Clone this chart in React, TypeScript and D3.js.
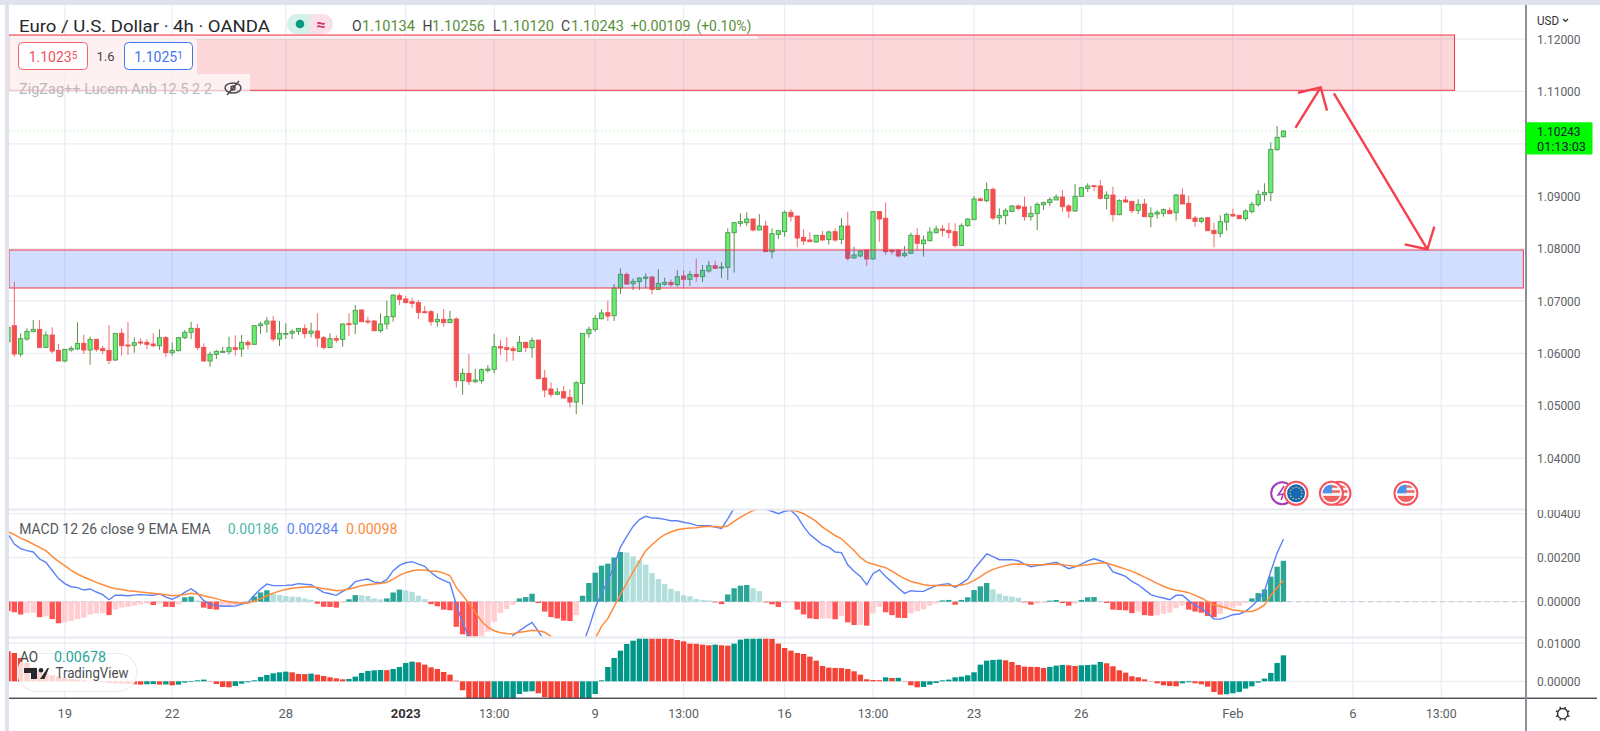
import React from "react";
import * as d3 from "d3";

// Candles, prices in 1e-5 units (index 0 is the half-hidden candle on the left edge)
const opens = [106224,
106529,105988,106274,106414,106459,106115,106351,106058,105855,106064,
106084,106192,106064,106268,106090,106058,105874,106383,106160,106154,
106217,106211,106179,106147,106300,106014,106052,106300,106402,106478,
106115,105855,105982,106033,106033,106109,106084,106211,106173,106529,
106561,106618,106274,106376,106383,106421,106478,106383,106427,106300,
106115,106281,106268,106567,106561,106828,106618,106618,106433,106561,
106701,107101,107038,106987,106968,106796,106796,106605,106650,106586,
106656,105479,105619,105460,105479,105676,105696,106128,106109,106090,
106039,106211,106109,106255,105530,105320,105219,105269,105161,105072,
105428,106376,106459,106662,106777,106720,107248,107508,107330,107369,
107432,107458,107222,107318,107356,107311,107477,107413,107508,107464,
107572,107674,107629,107643,108304,108482,108495,108565,108355,108431,
107942,108272,108323,108692,108622,108215,108164,108126,108253,108171,
108323,108177,108431,107821,107859,107973,107802,108705,108578,107973,
107973,107865,107910,108253,108094,108151,108304,108374,108349,108323,
108062,108438,108552,108947,108915,109131,108590,108629,108711,108813,
108794,108609,108667,108838,108877,108928,108985,108813,108718,108997,
109150,109201,109195,108959,109023,108648,108928,108902,108730,108851,
108609,108660,108673,108730,108686,109023,108864,108584,108520,108590,
108349,108291,108508,108654,108635,108571,108705,108838,109029,109067,
109888,110134];
const highs = [106529,
107369,106383,106478,106637,106637,106414,106497,106179,106077,106141,
106592,106357,106319,106268,106141,106535,106383,106478,106599,106306,
106287,106268,106383,106459,106332,106211,106306,106446,106599,106561,
106192,106033,106064,106128,106319,106344,106351,106255,106535,106605,
106688,106713,106618,106573,106459,106478,106554,106586,106764,106332,
106383,106344,106573,106764,106923,106841,106701,106637,106764,107006,
107120,107146,107095,107063,107019,106904,106828,106764,106847,106815,
106688,105708,105988,105708,105715,105778,106370,106255,106306,106141,
106332,106217,106306,106255,105689,105448,105339,105378,105314,105467,
106383,106510,106732,106841,107006,107324,107623,107547,107432,107451,
107528,107477,107604,107445,107413,107591,107591,107572,107814,107687,
107763,107769,107737,108387,108501,108673,108692,108565,108660,108533,
108387,108355,108724,108749,108622,108368,108310,108260,108336,108342,
108387,108584,108705,108037,107973,107986,108711,108711,108883,107986,
107986,108050,108304,108387,108247,108406,108438,108450,108495,108482,
108482,108578,109004,108978,109265,109169,108768,108768,108832,108845,
108991,108813,108883,108896,108978,109036,109118,108851,109233,109169,
109246,109214,109309,109093,109182,108940,109004,108902,108940,108953,
108788,108737,108762,108788,109042,109150,109004,108622,108603,108597,
108495,108635,108686,108762,108641,108749,108896,109118,109246,110028,
110340,110256];
const lows = [106224,
105937,105937,106243,106414,106103,106103,106001,105855,105836,106033,
106064,105988,105785,106033,105988,105797,105855,105956,105969,106014,
106154,106077,106115,106064,105925,105956,106039,106274,106274,106064,
105836,105746,105893,106033,105982,105956,105937,106077,106166,106370,
106395,106224,106141,106274,106274,106351,106287,106306,106128,106077,
106103,106204,106128,106332,106370,106599,106561,106421,106395,106459,
106605,106923,106955,106872,106656,106764,106529,106510,106510,106586,
105352,105212,105397,105441,105428,105632,105619,105969,105836,105861,
106026,106026,105918,105517,105161,105161,105206,105136,104970,104843,
105021,106300,106414,106650,106618,106618,107133,107305,107210,107210,
107241,107127,107210,107292,107273,107273,107260,107286,107369,107362,
107540,107610,107439,107401,107541,108419,108431,108323,108355,107942,
107814,108183,108228,108514,108024,108069,108132,108113,108151,108075,
108132,108088,107770,107808,107833,107668,107795,108132,107878,107884,
107833,107833,107897,107961,107846,108139,108291,108228,108196,108024,
108050,108419,108546,108908,108883,108546,108463,108463,108705,108724,
108533,108533,108355,108737,108813,108928,108705,108590,108699,108991,
109080,109099,108940,108749,108514,108635,108877,108673,108660,108603,
108406,108571,108609,108654,108533,108851,108571,108419,108482,108336,
108024,108215,108342,108609,108565,108533,108673,108800,108902,108902,
109869,110120];
const closes = [106500,
105988,106281,106421,106459,106115,106351,106045,105855,106077,106096,
106192,106064,106268,106077,106052,105867,106383,106147,106147,106204,
106204,106173,106147,106300,106014,106058,106300,106402,106478,106115,
105855,105982,106039,106039,106109,106077,106211,106166,106529,106561,
106618,106274,106383,106383,106421,106478,106376,106427,106294,106115,
106281,106255,106561,106561,106821,106605,106599,106433,106561,106701,
107114,107031,106968,106955,106783,106777,106605,106650,106586,106650,
105479,105619,105460,105492,105689,105702,106128,106103,106077,106052,
106211,106109,106249,105517,105301,105219,105263,105149,105072,105441,
106383,106459,106669,106771,106713,107248,107508,107324,107375,107438,
107458,107222,107337,107356,107311,107464,107413,107508,107464,107585,
107674,107623,107648,108304,108495,108514,108565,108355,108431,107942,
108285,108342,108692,108609,108202,108145,108132,108253,108164,108317,
108164,108431,107814,107878,107954,107802,108705,108565,107942,107942,
107859,107910,108253,108101,108164,108317,108374,108349,108304,108056,
108438,108565,108947,108915,109125,108584,108635,108724,108813,108768,
108609,108673,108845,108877,108934,108985,108800,108718,108997,109163,
109195,109182,108959,109023,108648,108915,108889,108724,108845,108609,
108673,108692,108743,108667,109023,108851,108571,108520,108578,108342,
108285,108514,108654,108622,108571,108718,108845,109036,109074,109894,
110123,110243];

// MACD indicator, 1e-5 units
const macdHist = [-42,-48,-58,-52,-50,-70,-67,-79,-98,-94,-88,-79,-73,-58,-53,-52,-61,-36,-27,-24,-18,-12,-8,-15,-8,-23,-24,-11,20,23,6,-27,-33,-36,-21,-20,-15,-12,-5,24,42,52,36,30,26,23,21,14,9,-9,-23,-24,-27,-5,11,30,29,26,15,11,15,42,55,52,45,27,12,-11,-21,-36,-39,-114,-148,-189,-197,-182,-136,-91,-52,-33,-14,15,21,36,-6,-45,-70,-76,-86,-88,-61,27,85,132,164,173,201,226,224,206,188,168,130,103,80,58,48,30,24,12,8,6,-3,-11,33,61,73,76,61,48,-3,-12,-24,-5,-3,-36,-58,-76,-79,-77,-76,-80,-64,-94,-106,-105,-109,-53,-23,-48,-61,-73,-74,-53,-44,-35,-18,-8,6,8,-14,8,20,53,70,85,56,36,27,23,18,-3,-14,-8,-5,5,8,-6,-18,-9,8,20,21,3,-6,-36,-38,-39,-52,-45,-61,-64,-62,-55,-50,-30,-18,-36,-45,-50,-65,-70,-55,-30,-27,-18,-5,15,39,56,114,159,186];
const macdLine = [308,262,241,232,226,194,179,142,105,82,68,64,53,58,44,32,9,30,29,27,30,32,30,29,36,21,11,24,42,59,39,5,-11,-18,-21,-21,-20,-11,-3,29,58,80,73,73,74,76,82,79,77,59,42,36,29,47,62,91,98,103,89,86,100,141,165,177,182,171,161,133,111,97,85,-14,-97,-158,-211,-241,-241,-241,-226,-203,-153,-132,-112,-94,-135,-180,-226,-248,-256,-256,-226,-195,-120,-29,39,92,165,248,297,342,373,388,380,379,374,368,368,361,356,347,345,345,339,333,377,426,471,486,494,479,421,411,400,411,415,388,342,305,282,259,248,226,223,168,138,115,77,127,145,115,89,62,38,50,47,47,61,73,79,82,65,83,103,148,183,217,205,191,191,191,186,171,159,164,168,174,179,165,150,158,171,186,195,186,176,135,126,115,92,77,55,32,23,17,9,29,29,5,-17,-29,-52,-79,-79,-70,-59,-56,-44,-21,9,47,138,221,284];
const signalLine = [318,305,289,277,262,247,232,206,183,164,142,126,112,100,88,77,67,59,55,50,47,44,41,38,35,32,27,29,33,38,35,27,20,14,5,0,-5,-6,-6,2,14,27,39,48,55,61,64,67,68,65,59,55,50,52,58,65,73,77,80,83,88,103,120,132,141,144,144,138,138,130,118,65,29,-8,-47,-89,-117,-132,-141,-145,-147,-139,-135,-130,-132,-139,-158,-173,-195,-218,-236,-245,-211,-168,-112,-77,-21,32,85,135,183,232,259,285,305,317,327,332,335,336,341,342,342,339,345,365,383,400,414,424,429,429,423,418,418,411,400,383,365,339,320,301,286,259,233,201,180,171,162,155,139,121,105,92,85,77,74,74,74,74,73,76,82,97,114,133,147,156,164,170,171,170,168,168,168,170,171,168,164,161,164,168,173,176,176,167,158,148,138,126,112,98,83,70,59,52,47,41,29,17,0,-14,-21,-29,-38,-41,-44,-44,-33,-15,29,62,98];

// Awesome Oscillator, 1e-5 units
const aoValues = [783,740,609,479,365,278,209,157,122,87,61,44,26,9,-9,-26,-44,-52,-61,-70,-78,-87,-78,-74,-87,-83,-104,-87,-35,-17,26,44,9,-70,-148,-157,-122,-61,-26,26,113,165,209,235,252,235,191,187,200,174,139,104,78,52,61,122,218,270,287,296,291,322,374,479,513,496,435,365,322,244,174,17,-235,-480,-520,-540,-545,-530,-500,-470,-440,-331,-270,-261,-313,-418,-478,-522,-540,-548,-565,-522,-478,-331,26,374,609,800,974,1061,1157,1192,1183,1175,1166,1114,1079,1044,983,979,957,940,957,940,931,983,1088,1175,1192,1201,1175,1114,983,870,800,740,713,644,539,400,357,348,344,322,261,174,52,35,30,104,87,91,9,-104,-157,-148,-87,-44,26,44,104,122,157,235,435,539,557,566,548,505,426,383,378,374,348,374,409,426,418,400,418,426,435,505,470,392,287,226,131,104,52,9,-52,-104,-122,-131,-52,-26,-52,-78,-139,-278,-348,-339,-313,-278,-191,-131,-35,70,218,479,678];

// Axes
const priceTicks = [112000,111000,110000,109000,108000,107000,106000,105000,104000];
const macdTicks = [400,200,0];
const aoTicks = [1000,0];
const timeTickIndex = [9,26,44,63,77,93,107,123,137,153,170,194,213,227];
const timeTickLabel = ["19","22","28","2023","13:00","9","13:00","16","13:00","23","26","Feb","6","13:00"];

// Drawn annotations: [candle index, price]
const supplyZone = { from: 0.16, to: 229.1, top: 112076, bottom: 111021 };
const demandZone = { from: 0.16, to: 240, top: 107973, bottom: 107248 };
const arrowUp = [[203.9,110302],[207.9,111078]];
const arrowUpHead = [[204.3,110975],[207.9,111078],[208.9,110632]];
const arrowDown = [[210,110964],[224.8,107987]];
const arrowDownHead = [[221.2,108082],[224.8,107987],[225.9,108418]];
const lastPrice = 110243;

const eventSplash = 201.8;
const eventEu = 204;
const eventUs = [210.8, 209.6, 221.4];

const FONT = "Roboto, sans-serif";

function label(x: number, y: number, s: string, size: number, fill: string, w?: number, anchor = "start", weight = 400) {
  return (
    <text x={x} y={y} fontFamily={FONT} fontSize={size} fill={fill} textAnchor={anchor} dominantBaseline="central" fontWeight={weight}
      {...(w ? { textLength: w, lengthAdjust: "spacingAndGlyphs" } : {})}>{s}</text>
  );
}

function UsIcon({ cx, cy, id }: { cx: number; cy: number; id: string }) {
  return (
    <g>
      <circle cx={cx} cy={cy} r={11.5} fill="#fff" stroke="#f7525f" strokeWidth={2} />
      <clipPath id={id}><circle cx={cx} cy={cy} r={8.8} /></clipPath>
      <g clipPath={`url(#${id})`}>
        <rect x={cx - 10} y={cy - 10} width={20} height={20} fill="#f4f4f6" />
        <rect x={cx - 10} y={cy - 8} width={20} height={2.4} fill="#f2605f" />
        <rect x={cx - 10} y={cy - 3} width={20} height={2.4} fill="#f2605f" />
        <rect x={cx - 10} y={cy + 2.6} width={20} height={6.4} fill="#f2605f" />
        <rect x={cx - 10} y={cy - 10} width={10.5} height={10} fill="#4a94e8" />
      </g>
    </g>
  );
}

export default function App() {
  const x = d3.scaleLinear().domain([0, 202]).range([8, 8 + 6.314 * 202]);
  const y = d3.scaleLinear().domain([104000, 112000]).range([458.2, 39]);
  const yMacd = d3.scaleLinear().domain([0, 200]).range([601.7, 557.7]);
  const yAo = d3.scaleLinear().domain([0, 1000]).range([681.3, 643]);

  const macdPath = d3.line<number>().x((_, i) => x(i)).y((d) => yMacd(d))(macdLine) || "";
  const signalPath = d3.line<number>().x((_, i) => x(i)).y((d) => yMacd(d))(signalLine) || "";
  const arrowPath = d3.line<number[]>().x((d) => x(d[0])).y((d) => y(d[1]));

  const grid = "#e9eef5";
  const pos = "#5a8f3a";
  const barW = 5.4;

  const histColor = (v: number, i: number) => {
    const prev = i > 0 ? macdHist[i - 1] : v + 1;
    if (v >= 0) return v >= prev ? "#2aa596" : "#b2dfdb";
    return v < prev ? "#ff5252" : "#ffcdd2";
  };
  const aoColor = (v: number, i: number) => {
    const prev = i > 0 ? aoValues[i - 1] : v + 1;
    return v >= prev ? "#009688" : "#f44336";
  };

  return (
    <svg width={1600} height={731} style={{ position: "absolute", left: 0, top: 0, display: "block", background: "#fff" }}>
      <defs>
        <clipPath id="cPrice"><rect x={9} y={5} width={1516} height={504} /></clipPath>
        <clipPath id="cMacd"><rect x={9} y={510} width={1516} height={126.5} /></clipPath>
        <clipPath id="cAo"><rect x={9} y={638.5} width={1516} height={59.5} /></clipPath>
        <clipPath id="cMacdAxis"><rect x={1527} y={510} width={70} height={126} /></clipPath>
      </defs>

      {/* page frame */}
      <rect x={0} y={0} width={1600} height={5} fill="#e0e3eb" />
      <rect x={5} y={0} width={4} height={731} fill="#e0e3eb" />

      {/* grid */}
      <g stroke={grid} strokeWidth={1.3}>
        {priceTicks.map((t) => <line key={t} x1={9} x2={1525} y1={y(t)} y2={y(t)} />)}
        {macdTicks.map((t) => <line key={t} x1={9} x2={1525} y1={yMacd(t)} y2={yMacd(t)} />)}
        {aoTicks.map((t) => <line key={t} x1={9} x2={1525} y1={yAo(t)} y2={yAo(t)} />)}
        {timeTickIndex.map((t) => <line key={t} x1={x(t)} x2={x(t)} y1={5} y2={698} />)}
      </g>

      {/* last price line */}
      <line x1={9} x2={1525} y1={y(lastPrice)} y2={y(lastPrice)} stroke="#b6f2b6" strokeWidth={1} strokeDasharray="1.5 2.5" />

      {/* candles */}
      <g clipPath="url(#cPrice)">
        {closes.map((c, i) => {
          const up = c >= opens[i];
          const top = y(Math.max(c, opens[i]));
          const h = Math.max(1, y(Math.min(c, opens[i])) - top);
          return (
            <g key={i}>
              <line x1={x(i)} x2={x(i)} y1={y(highs[i])} y2={y(lows[i])} stroke={up ? "#5d9142" : "#f56a6a"} strokeWidth={1} />
              <rect x={x(i) - 2.1} y={top} width={4.2} height={h} fill={up ? "#69ec6f" : "#f24f4f"} stroke={up ? "#4f9a52" : "#f24f4f"} strokeWidth={0.9} />
            </g>
          );
        })}
      </g>

      {/* zones */}
      <g clipPath="url(#cPrice)">
        <rect x={x(supplyZone.from)} y={y(supplyZone.top)} width={x(supplyZone.to) - x(supplyZone.from)} height={y(supplyZone.bottom) - y(supplyZone.top)} fill="#f23645" fillOpacity={0.2} stroke="#f23645" strokeWidth={1} />
        <rect x={x(demandZone.from)} y={y(demandZone.top)} width={x(demandZone.to) - x(demandZone.from)} height={y(demandZone.bottom) - y(demandZone.top)} fill="#2962ff" fillOpacity={0.21} stroke="#f23645" strokeWidth={1} />
      </g>

      {/* arrows */}
      <g fill="none" stroke="#f5414f" strokeWidth={2.4}>
        <path d={arrowPath(arrowUp as number[][]) || ""} />
        <path d={arrowPath(arrowUpHead as number[][]) || ""} />
        <path d={arrowPath(arrowDown as number[][]) || ""} />
        <path d={arrowPath(arrowDownHead as number[][]) || ""} />
      </g>

      {/* MACD */}
      <g clipPath="url(#cMacd)">
        <line x1={9} x2={1525} y1={yMacd(0)} y2={yMacd(0)} stroke="#c8cbd1" strokeWidth={1} strokeDasharray="5 4" />
        {macdHist.map((v, i) => (
          <rect key={i} x={x(i) - barW / 2} width={barW} y={Math.min(yMacd(v), yMacd(0))} height={Math.abs(yMacd(v) - yMacd(0))} fill={histColor(v, i)} />
        ))}
        <path d={macdPath} fill="none" stroke="#5b80f7" strokeWidth={1.4} />
        <path d={signalPath} fill="none" stroke="#ff8a3a" strokeWidth={1.5} />
      </g>

      {/* AO */}
      <g clipPath="url(#cAo)">
        {aoValues.map((v, i) => (
          <rect key={i} x={x(i) - barW / 2} width={barW} y={Math.min(yAo(v), yAo(0))} height={Math.abs(yAo(v) - yAo(0))} fill={aoColor(v, i)} />
        ))}
      </g>

      {/* pane separators and axes */}
      <rect x={9} y={508.5} width={1516} height={2} fill="#e6e9f0" />
      <rect x={9} y={636.5} width={1516} height={2} fill="#e6e9f0" />
      <rect x={9} y={697.6} width={1588} height={1.3} fill="#3a3d45" />
      <rect x={1525} y={5} width={2} height={726} fill="#8d8f94" />

      {/* economic events */}
      <g>
        <circle cx={x(eventSplash)} cy={493.3} r={11} fill="#fff" stroke="#a23ab8" strokeWidth={2} />
        <path d={`M${x(eventSplash) + 2} ${486} l-6 9 l5 -1 l-2 6`} fill="none" stroke="#a23ab8" strokeWidth={1.5} />
        <circle cx={x(eventEu)} cy={493.3} r={11.5} fill="#fff" stroke="#f7525f" strokeWidth={2} />
        <circle cx={x(eventEu)} cy={493.3} r={9} fill="#1667b8" />
        {d3.range(12).map((k) => (
          <circle key={k} cx={x(eventEu) + 6 * Math.cos((k * Math.PI) / 6)} cy={493.3 + 6 * Math.sin((k * Math.PI) / 6)} r={0.8} fill="#e8d44a" />
        ))}
        {eventUs.map((e, k) => <UsIcon key={k} cx={x(e)} cy={493.3} id={`us${k}`} />)}
      </g>

      {/* translucent legend backgrounds */}
      <rect x={9} y={36} width={749} height={3} fill="#fff" fillOpacity={0.65} />
      <rect x={9} y={39} width={188} height={35} fill="#fff" fillOpacity={0.65} />
      <rect x={9} y={74} width={241} height={17} fill="#fff" fillOpacity={0.65} />

      {/* header */}
      {label(19, 25.5, "Euro / U.S. Dollar · 4h · OANDA", 17, "#26282e", 251)}
      <rect x={287} y={14} width={46} height={20} rx={10} fill="#fbdfe9" />
      <path d="M297 14 h13 v20 h-13 a10 10 0 0 1 0 -20 z" fill="#d5f0eb" />
      <circle cx={300} cy={24} r={4.3} fill="#089981" />
      <text x={321} y={24} fontFamily={FONT} fontSize={16} fontWeight={700} fill="#d6246e" textAnchor="middle" dominantBaseline="central">≈</text>
      {label(352, 26, "O", 14, "#444")}
      {label(362, 26, "1.10134", 14, pos, 53)}
      {label(422.4, 26, "H", 14, "#444")}
      {label(432, 26, "1.10256", 14, pos, 53)}
      {label(492.9, 26, "L", 14, "#444")}
      {label(501, 26, "1.10120", 14, pos, 53)}
      {label(561, 26, "C", 14, "#444")}
      {label(571, 26, "1.10243", 14, pos, 53)}
      {label(630.6, 26, "+0.00109", 14, pos, 60)}
      {label(696.4, 26, "(+0.10%)", 14, pos, 55)}

      {/* order buttons */}
      <rect x={18.5} y={42.5} width={69} height={27} rx={4} fill="#fff" stroke="#f4606c" strokeWidth={1} />
      <text x={53} y={56.5} fontFamily={FONT} fontSize={14} fill="#f4505c" textAnchor="middle" dominantBaseline="central">1.1023<tspan fontSize={10} dy={-2}>5</tspan></text>
      {label(105.5, 56.5, "1.6", 13, "#444", undefined, "middle")}
      <rect x={124.5} y={42.5} width={68} height={27} rx={4} fill="#fff" stroke="#3f74f0" strokeWidth={1} />
      <text x={158.5} y={56.5} fontFamily={FONT} fontSize={14} fill="#3f74f0" textAnchor="middle" dominantBaseline="central">1.1025<tspan fontSize={10} dy={-2}>1</tspan></text>
      {label(19, 89, "ZigZag++ Lucem Anb 12 5 2 2", 14, "#b9b9bd", 193)}
      <g fill="none" stroke="#45474d" strokeWidth={1.4}>
        <ellipse cx={233} cy={88} rx={8} ry={5} />
        <circle cx={233} cy={88} r={2} />
        <line x1={227} y1={95} x2={239} y2={81} />
      </g>

      {/* MACD legend */}
      {label(19.3, 528.7, "MACD 12 26 close 9 EMA EMA", 14, "#55585f", 191.4)}
      {label(227.7, 528.7, "0.00186", 14, "#4fb8ab", 51)}
      {label(286.7, 528.7, "0.00284", 14, "#5d85f2", 51.5)}
      {label(346, 528.7, "0.00098", 14, "#fb8c3c", 51.5)}

      {/* AO legend + watermark */}
      <rect x={18} y={653.5} width={119} height={38} rx={19} fill="#fff" fillOpacity={0.78} stroke="#ececef" strokeWidth={1.2} />
      {label(20, 657, "AO", 14, "#444", 18)}
      {label(54, 657, "0.00678", 14, "#26a69a", 52)}
      <path d="M24 668 h13 v11 h-6 v-6 h-7 z M47.5 668 h1.5 l-4.5 11 h-4.5 z" fill="#26282e" />
      <circle cx={41} cy={670.3} r={2.3} fill="#26282e" />
      {label(55.5, 673, "TradingView", 14, "#4b4d53", 73)}

      {/* price axis */}
      <text x={1537} y={20} fontFamily={FONT} fontSize={13} fill="#333" dominantBaseline="central" textLength={22} lengthAdjust="spacingAndGlyphs">USD</text>
      <path d="M1563 19 l2.5 2.5 l2.5 -2.5" fill="none" stroke="#333" strokeWidth={1.2} />
      {priceTicks.map((t) => (
        <g key={t}>{label(1537, y(t), d3.format(".5f")(t / 1e5), 13, "#5f6268", 43.6)}</g>
      ))}
      <g clipPath="url(#cMacdAxis)">
        {macdTicks.map((t) => <g key={t}>{label(1537, yMacd(t), d3.format(".5f")(t / 1e5), 13, "#5f6268", 43.6)}</g>)}
      </g>
      {aoTicks.map((t) => <g key={t}>{label(1537, yAo(t), d3.format(".5f")(t / 1e5), 13, "#5f6268", 43.6)}</g>)}
      <rect x={1526} y={122.3} width={66.5} height={32.2} rx={1.5} fill="#00fb00" />
      {label(1537, 131.5, d3.format(".5f")(lastPrice / 1e5), 13, "#123", 43.6)}
      {label(1537, 146, "01:13:03", 13, "#123", 49)}

      {/* time axis */}
      {timeTickIndex.map((t, k) => (
        <g key={t}>{label(x(t), 713.7, timeTickLabel[k], 13, timeTickLabel[k] === "2023" ? "#333" : "#5a5d63", timeTickLabel[k].length === 5 ? 30.6 : undefined, "middle", timeTickLabel[k] === "2023" ? 700 : 400)}</g>
      ))}

      {/* settings gear */}
      <g fill="none" stroke="#2f3137" strokeWidth={1.4}>
        <circle cx={1562.7} cy={713.7} r={5.2} />
        {d3.range(8).map((k) => {
          const a = (k * Math.PI) / 4 + Math.PI / 8;
          return <line key={k} x1={1562.7 + 5.2 * Math.cos(a)} y1={713.7 + 5.2 * Math.sin(a)} x2={1562.7 + 7.4 * Math.cos(a)} y2={713.7 + 7.4 * Math.sin(a)} />;
        })}
      </g>
    </svg>
  );
}
